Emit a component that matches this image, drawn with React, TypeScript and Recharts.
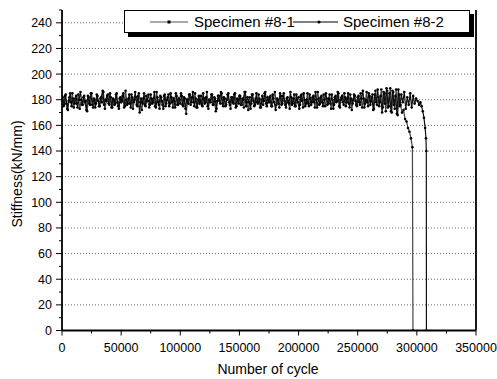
import React from 'react';
import { LineChart, Line, XAxis, YAxis, CartesianGrid, Legend, ReferenceLine } from 'recharts';

// Specimen #8-1
const cycles81 = [
  0, 1250, 2500, 3750, 5000, 6250, 7500, 8750, 10000, 11250,
  12500, 13750, 15000, 16250, 17500, 18750, 20000, 21250, 22500, 23750,
  25000, 26250, 27500, 28750, 30000, 31250, 32500, 33750, 35000, 36250,
  37500, 38750, 40000, 41250, 42500, 43750, 45000, 46250, 47500, 48750,
  50000, 51250, 52500, 53750, 55000, 56250, 57500, 58750, 60000, 61250,
  62500, 63750, 65000, 66250, 67500, 68750, 70000, 71250, 72500, 73750,
  75000, 76250, 77500, 78750, 80000, 81250, 82500, 83750, 85000, 86250,
  87500, 88750, 90000, 91250, 92500, 93750, 95000, 96250, 97500, 98750,
  100000, 101250, 102500, 103750, 105000, 106250, 107500, 108750, 110000, 111250,
  112500, 113750, 115000, 116250, 117500, 118750, 120000, 121250, 122500, 123750,
  125000, 126250, 127500, 128750, 130000, 131250, 132500, 133750, 135000, 136250,
  137500, 138750, 140000, 141250, 142500, 143750, 145000, 146250, 147500, 148750,
  150000, 151250, 152500, 153750, 155000, 156250, 157500, 158750, 160000, 161250,
  162500, 163750, 165000, 166250, 167500, 168750, 170000, 171250, 172500, 173750,
  175000, 176250, 177500, 178750, 180000, 181250, 182500, 183750, 185000, 186250,
  187500, 188750, 190000, 191250, 192500, 193750, 195000, 196250, 197500, 198750,
  200000, 201250, 202500, 203750, 205000, 206250, 207500, 208750, 210000, 211250,
  212500, 213750, 215000, 216250, 217500, 218750, 220000, 221250, 222500, 223750,
  225000, 226250, 227500, 228750, 230000, 231250, 232500, 233750, 235000, 236250,
  237500, 238750, 240000, 241250, 242500, 243750, 245000, 246250, 247500, 248750,
  250000, 251250, 252500, 253750, 255000, 256250, 257500, 258750, 260000, 261250,
  262500, 263750, 265000, 266250, 267500, 268750, 270000, 271250, 272500, 273750,
  275000, 276250, 277500, 278750, 280000, 281250, 282500, 283750, 285000,
  286250, 287500, 288750, 290000, 291250, 292500, 293750, 295000, 296250, 296700,
];
const stiffness81 = [
  180, 175, 183, 177, 172, 182, 178, 185, 174, 181,
  177, 184, 173, 180, 176, 183, 179, 171, 182, 176,
  185, 174, 180, 177, 183, 175, 181, 178, 186, 173,
  179, 184, 176, 182, 174, 180, 177, 185, 175, 181,
  178, 183, 174, 187, 176, 181, 177, 184, 173, 180,
  182, 175, 185, 178, 172, 181, 176, 183, 179, 174,
  184, 177, 181, 175, 186, 178, 173, 182, 176, 183,
  175, 180, 184, 177, 182, 174, 179, 185, 176, 181,
  177, 183, 175, 181, 169, 180, 184, 176, 182, 178,
  185, 174, 180, 177, 183, 175, 181, 178, 186, 173,
  180, 184, 176, 182, 171, 179, 183, 177, 185, 175,
  181, 176, 184, 178, 173, 182, 177, 185, 175, 180,
  183, 176, 181, 174, 186, 178, 172, 182, 177, 184,
  175, 181, 178, 184, 174, 180, 176, 185, 177, 182,
  178, 183, 175, 181, 186, 176, 180, 174, 183, 177,
  185, 176, 181, 178, 173, 182, 177, 184, 175, 180,
  182, 176, 184, 174, 180, 177, 185, 175, 181, 178,
  183, 174, 180, 186, 176, 182, 178, 184, 175, 181,
  177, 184, 173, 180, 176, 183, 179, 185, 174, 182,
  178, 185, 175, 181, 177, 184, 172, 180, 183, 176,
  182, 178, 185, 174, 181, 177, 186, 175, 183, 179,
  184, 173, 187, 176, 182, 178, 188, 174, 185, 171,
  187, 175, 189, 170, 186, 173, 188, 168, 184,
  176, 170, 172, 165, 163, 158, 155, 150, 143, 0,
];

// Specimen #8-2
const cycles82 = [
  625, 1875, 3125, 4375, 5625, 6875, 8125, 9375, 10625, 11875,
  13125, 14375, 15625, 16875, 18125, 19375, 20625, 21875, 23125, 24375,
  25625, 26875, 28125, 29375, 30625, 31875, 33125, 34375, 35625, 36875,
  38125, 39375, 40625, 41875, 43125, 44375, 45625, 46875, 48125, 49375,
  50625, 51875, 53125, 54375, 55625, 56875, 58125, 59375, 60625, 61875,
  63125, 64375, 65625, 66875, 68125, 69375, 70625, 71875, 73125, 74375,
  75625, 76875, 78125, 79375, 80625, 81875, 83125, 84375, 85625, 86875,
  88125, 89375, 90625, 91875, 93125, 94375, 95625, 96875, 98125, 99375,
  100625, 101875, 103125, 104375, 105625, 106875, 108125, 109375, 110625, 111875,
  113125, 114375, 115625, 116875, 118125, 119375, 120625, 121875, 123125, 124375,
  125625, 126875, 128125, 129375, 130625, 131875, 133125, 134375, 135625, 136875,
  138125, 139375, 140625, 141875, 143125, 144375, 145625, 146875, 148125, 149375,
  150625, 151875, 153125, 154375, 155625, 156875, 158125, 159375, 160625, 161875,
  163125, 164375, 165625, 166875, 168125, 169375, 170625, 171875, 173125, 174375,
  175625, 176875, 178125, 179375, 180625, 181875, 183125, 184375, 185625, 186875,
  188125, 189375, 190625, 191875, 193125, 194375, 195625, 196875, 198125, 199375,
  200625, 201875, 203125, 204375, 205625, 206875, 208125, 209375, 210625, 211875,
  213125, 214375, 215625, 216875, 218125, 219375, 220625, 221875, 223125, 224375,
  225625, 226875, 228125, 229375, 230625, 231875, 233125, 234375, 235625, 236875,
  238125, 239375, 240625, 241875, 243125, 244375, 245625, 246875, 248125, 249375,
  250625, 251875, 253125, 254375, 255625, 256875, 258125, 259375, 260625, 261875,
  263125, 264375, 265625, 266875, 268125, 269375, 270625, 271875, 273125, 274375,
  275625, 276875, 278125, 279375, 280625, 281875, 283125, 284375, 285625, 286875,
  288125, 289375, 290625, 291875, 293125, 294375, 295625, 296875, 298125, 299375,
  300625, 301875,
  303000, 304000, 305000, 306000, 307000, 307700, 308000, 308100,
];
const stiffness82 = [
  182, 176, 184, 173, 179, 185, 175, 181, 177, 183,
  174, 180, 186, 176, 182, 178, 172, 183, 177, 185,
  176, 181, 174, 184, 179, 175, 182, 187, 176, 180,
  183, 177, 185, 174, 181, 176, 184, 178, 173, 182,
  179, 185, 175, 180, 177, 184, 174, 182, 178, 186,
  176, 183, 170, 181, 177, 185, 175, 180, 184, 176,
  181, 178, 186, 174, 182, 176, 183, 179, 173, 184,
  177, 182, 175, 185, 178, 181, 174, 183, 176, 180,
  185, 176, 182, 173, 180, 177, 184, 178, 186, 175,
  181, 174, 183, 179, 176, 185, 177, 182, 175, 180,
  178, 184, 176, 181, 173, 183, 179, 186, 177, 182,
  175, 180, 185, 176, 182, 178, 184, 174, 181, 177,
  183, 176, 180, 186, 175, 182, 178, 173, 184, 179,
  176, 185, 177, 181, 174, 183, 179, 186, 175, 180,
  182, 175, 184, 178, 172, 181, 177, 185, 176, 183,
  179, 174, 182, 177, 186, 176, 181, 175, 184, 178,
  173, 183, 179, 185, 175, 180, 177, 184, 176, 182,
  178, 186, 174, 181, 177, 183, 175, 180, 185, 176,
  181, 177, 184, 173, 182, 178, 186, 175, 180, 183,
  176, 182, 178, 185, 174, 181, 177, 184, 179, 175,
  183, 176, 181, 187, 174, 180, 178, 185, 176, 182,
  172, 184, 178, 188, 175, 183, 170, 186, 177, 189,
  174, 185, 171, 187, 176, 183, 169, 188, 175, 184,
  178, 186, 173, 182, 176, 185, 174, 183, 177, 181,
  179, 176,
  178, 175, 171, 166, 158, 150, 140, 0,
];

const xMajorTicks = [0, 50000, 100000, 150000, 200000, 250000, 300000, 350000];
const xAllTicks = [0, 25000, 50000, 75000, 100000, 125000, 150000, 175000, 200000, 225000, 250000, 275000, 300000, 325000, 350000];
const yMajorTicks = [0, 20, 40, 60, 80, 100, 120, 140, 160, 180, 200, 220, 240];
const yAllTicks = [0, 10, 20, 30, 40, 50, 60, 70, 80, 90, 100, 110, 120, 130, 140, 150, 160, 170, 180, 190, 200, 210, 220, 230, 240, 250];

const seriesNames = ['Specimen #8-1', 'Specimen #8-2'];

const toPoints = (xs: number[], ys: number[]) => xs.map((x, i) => ({ x, y: ys[i] }));
const data81 = toPoints(cycles81, stiffness81);
const data82 = toPoints(cycles82, stiffness82);

const FONT = '"Liberation Sans", Arial, sans-serif';

const XTick = (props: any) => {
  const { x, y, payload } = props;
  const major = xMajorTicks.includes(payload.value);
  return (
    <g>
      <line x1={x} y1={y} x2={x} y2={y + (major ? 5 : 3)} stroke="#000" strokeWidth={1} />
      {major && (
        <text x={x} y={y + 12.5} dy="0.71em" textAnchor="middle" style={{ fontFamily: FONT, fontSize: 12.5, fill: '#000' }}>
          {payload.value}
        </text>
      )}
    </g>
  );
};

const YTick = (props: any) => {
  const { x, y, payload } = props;
  const major = yMajorTicks.includes(payload.value);
  return (
    <g>
      <line x1={x} y1={y} x2={x - (major ? 6 : 3)} y2={y} stroke="#000" strokeWidth={1} />
      {major && (
        <text x={x - 10} y={y} dy="0.355em" textAnchor="end" style={{ fontFamily: FONT, fontSize: 12.5, fill: '#000' }}>
          {payload.value}
        </text>
      )}
    </g>
  );
};

const LegendBox = () => (
  <div
    style={{
      position: 'relative',
      width: 346,
      height: 23,
      boxSizing: 'border-box',
      border: '1px solid #000',
      background: '#fff',
      boxShadow: '4px 4px 0 #000',
      fontFamily: FONT,
      fontSize: 15,
      color: '#000',
    }}
  >
    <svg style={{ position: 'absolute', left: 25, top: 0 }} width={40} height={21}>
      <line x1={0} y1={11} x2={38} y2={11} stroke="#555" strokeWidth={1} />
      <rect x={17.5} y={9.5} width={3} height={3} fill="#000" />
    </svg>
    <span style={{ position: 'absolute', left: 69, top: 0, lineHeight: '21px', whiteSpace: 'nowrap' }}>
      {seriesNames[0]}
    </span>
    <svg style={{ position: 'absolute', left: 168, top: 0 }} width={47} height={21}>
      <line x1={0} y1={11} x2={45} y2={11} stroke="#000" strokeWidth={1} />
      <circle cx={26} cy={11} r={1.6} fill="#000" />
    </svg>
    <span style={{ position: 'absolute', left: 218, top: 0, lineHeight: '21px', whiteSpace: 'nowrap' }}>
      {seriesNames[1]}
    </span>
  </div>
);

const YTitle = () => (
  <text
    x={22}
    y={174}
    transform="rotate(-90, 22, 174)"
    textAnchor="middle"
    style={{ fontFamily: FONT, fontSize: 14, fill: '#000' }}
  >
    Stiffness(kN/mm)
  </text>
);

const XTitle = () => (
  <text
    x={268}
    y={374}
    textAnchor="middle"
    style={{ fontFamily: FONT, fontSize: 14, fill: '#000' }}
  >
    Number of cycle
  </text>
);

export default function App() {
  return (
    <div style={{ position: 'absolute', left: 0, top: 0, background: '#fff' }}>
      <LineChart
        width={497}
        height={379}
        margin={{ top: 10, right: 21, bottom: 0, left: 0 }}
        style={{ background: '#fff' }}
      >
        <CartesianGrid
          horizontal
          vertical={false}
          stroke="#666"
          strokeDasharray="1 2"
          horizontalValues={yMajorTicks.slice(1)}
        />
        <XAxis
          type="number"
          dataKey="x"
          domain={[0, 350000]}
          ticks={xAllTicks}
          allowDataOverflow
          height={48.5}
          axisLine={{ stroke: '#000', strokeWidth: 1.8 }}
          tickLine={false}
          tickSize={0}
          tickMargin={0}
          tick={XTick}
          interval={0}
          label={<XTitle />}
        />
        <YAxis
          type="number"
          domain={[0, 250]}
          ticks={yAllTicks}
          allowDataOverflow
          width={62}
          axisLine={{ stroke: '#000', strokeWidth: 1.8 }}
          tickLine={false}
          tickSize={0}
          tickMargin={0}
          tick={YTick}
          interval={0}
          label={<YTitle />}
        />
        <ReferenceLine x={350000} stroke="#000" strokeWidth={1.8} />
        <Line
          data={data81}
          dataKey="y"
          name={seriesNames[0]}
          type="linear"
          stroke="#444"
          strokeWidth={1.2}
          dot={{ r: 1.3, fill: '#000', stroke: 'none' }}
          isAnimationActive={false}
        />
        <Line
          data={data82}
          dataKey="y"
          name={seriesNames[1]}
          type="linear"
          stroke="#111"
          strokeWidth={1.2}
          dot={{ r: 1.3, fill: '#000', stroke: 'none' }}
          isAnimationActive={false}
        />
        <Legend
          layout="horizontal"
          verticalAlign="middle"
          align="center"
          wrapperStyle={{ position: 'absolute', left: 124, top: 10, width: 346, height: 23 }}
          content={() => <LegendBox />}
        />
      </LineChart>
    </div>
  );
}
